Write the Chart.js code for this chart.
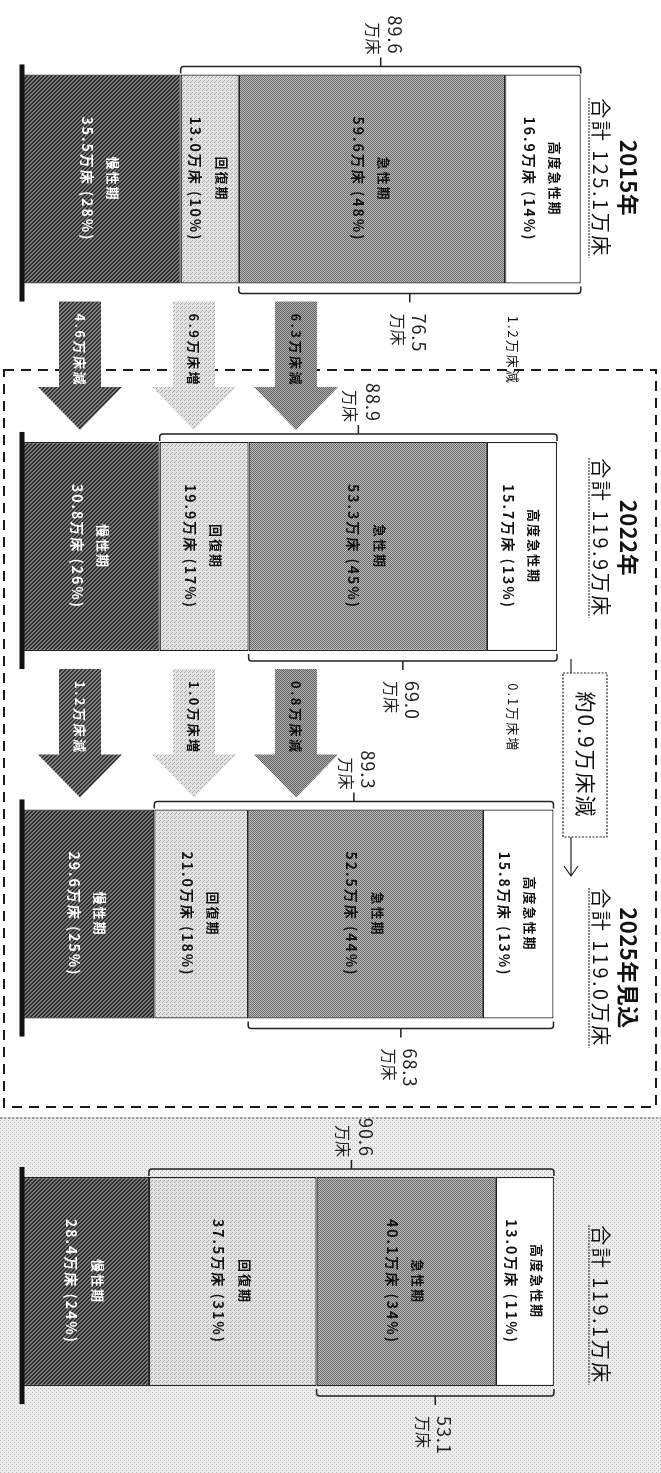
<!DOCTYPE html>
<html lang="ja">
<head>
<meta charset="UTF-8">
<title>病床数の推移</title>
<style>
  html, body { margin: 0; padding: 0; background: #fff; overflow: hidden; }
  #wrap { width: 661px; height: 1473px; }
</style>
</head>
<body>
<script src="https://cdn.jsdelivr.net/npm/chart.js"></script>
<div id="wrap"><canvas id="myChart" width="661" height="1473"></canvas></div>
<script>
  // 年次（上から）
  const categories = ['2015年', '2022年', '2025年見込', '2025年必要量'];
  const seriesNames = ['慢性期', '回復期', '急性期', '高度急性期'];
  // 病床数（万床）
  const chronic = [35.5, 30.8, 29.6, 28.4];
  const recovery = [13.0, 19.9, 21.0, 37.5];
  const acute = [59.6, 53.3, 52.5, 40.1];
  const highAcute = [16.9, 15.7, 15.8, 13.0];
  // 割合（%）
  const chronicPct = [28, 26, 25, 24];
  const recoveryPct = [10, 17, 18, 31];
  const acutePct = [48, 45, 44, 34];
  const highAcutePct = [14, 13, 13, 11];
  // 合計と括弧の数値（万床）
  const totals = [125.1, 119.9, 119.0, 119.1];
  const upperSums = [89.6, 88.9, 89.3, 90.6];
  const lowerSums = [76.5, 69.0, 68.3, 53.1];
  // 増減
  const change1 = ['4.6万床減', '6.9万床増', '6.3万床減', '1.2万床減'];
  const change2 = ['1.2万床減', '1.0万床増', '0.8万床減', '0.1万床増'];
  const overallChange = '約0.9万床減';

  const FONT = '"Noto Sans CJK JP", "Noto Sans", sans-serif';

  // 網掛けパターン
  function makePattern(bg, fg, cells) {
    const c = document.createElement('canvas');
    c.width = 4; c.height = 4;
    const g = c.getContext('2d');
    g.fillStyle = bg; g.fillRect(0, 0, 4, 4);
    g.fillStyle = fg;
    cells.forEach(p => g.fillRect(p[0], p[1], 1, 1));
    return g.createPattern(c, 'repeat');
  }
  const hatch = [[0,3],[1,2],[2,1],[3,0],[0,2],[1,1],[2,0],[3,3]];
  const checker = [[0,0],[2,0],[1,1],[3,1],[0,2],[2,2],[1,3],[3,3]];
  const sparse = [[0,0],[2,2]];
  const patChronic = makePattern('#7a7a7a', '#2a2a2a', hatch);
  const patRecovery = makePattern('#e2e2e2', '#a8a8a8', [[0,0],[2,2],[3,1]]);
  const patAcute = makePattern('#bcbcbc', '#6a6a6a', checker);
  const patBg = makePattern('#ececec', '#bcbcbc', sparse);
  const patArrowDark = makePattern('#828282', '#333333', hatch);
  const patArrowLight = makePattern('#e2e2e2', '#a8a8a8', [[0,0],[2,2],[1,3]]);
  const patArrowMid = makePattern('#b0b0b0', '#626262', checker);

  function vText(ctx, str, x, y, font, color, align, ls) {
    ctx.save();
    ctx.translate(x, y);
    ctx.rotate(Math.PI / 2);
    ctx.font = font;
    ctx.fillStyle = color || '#111';
    ctx.textAlign = align || 'center';
    ctx.textBaseline = 'middle';
    ctx.letterSpacing = (ls || 0) + 'px';
    ctx.fillText(str, 0, 0);
    const w = ctx.measureText(str).width;
    ctx.restore();
    return w;
  }

  function bracket(ctx, x1, x2, y, dir) {
    const h = 7 * dir, r = 3;
    ctx.beginPath();
    ctx.moveTo(x1, y + h);
    ctx.arcTo(x1, y, x1 + r, y, r);
    ctx.lineTo(x2 - r, y);
    ctx.arcTo(x2, y, x2, y + h, r);
    ctx.lineTo(x2, y + h);
    const m = (x1 + x2) / 2;
    ctx.moveTo(m, y);
    ctx.lineTo(m, y - 9 * dir);
    ctx.stroke();
  }

  function arrow(ctx, cx, y0, yHead, yTip, fill) {
    ctx.beginPath();
    ctx.moveTo(cx - 21, y0);
    ctx.lineTo(cx + 21, y0);
    ctx.lineTo(cx + 21, yHead);
    ctx.lineTo(cx + 42, yHead);
    ctx.lineTo(cx, yTip);
    ctx.lineTo(cx - 42, yHead);
    ctx.lineTo(cx - 21, yHead);
    ctx.closePath();
    ctx.fillStyle = fill;
    ctx.fill();
  }

  const decor = {
    id: 'decor',
    beforeDraw(chart) {
      const ctx = chart.ctx;
      ctx.save();
      ctx.fillStyle = '#fff';
      ctx.fillRect(0, 0, chart.width, chart.height);
      ctx.fillStyle = patBg;
      ctx.fillRect(0, 1117, chart.width, chart.height - 1117);
      ctx.strokeStyle = '#8a8a8a';
      ctx.lineWidth = 1.5;
      ctx.setLineDash([2, 2]);
      ctx.beginPath(); ctx.moveTo(0, 1118); ctx.lineTo(chart.width, 1118); ctx.stroke();
      // 破線の枠
      ctx.strokeStyle = '#1a1a1a';
      ctx.lineWidth = 2;
      ctx.setLineDash([10, 7]);
      ctx.strokeRect(4, 370, 652, 737);
      ctx.restore();
    },
    afterDatasetsDraw(chart) {
      const ctx = chart.ctx;
      const xs = chart.scales.x;
      const bars = chart.getDatasetMeta(0).data;
      const pcts = [chronicPct, recoveryPct, acutePct, highAcutePct];
      const titleY = [178, 538, 968, 1305];
      ctx.save();

      bars.forEach((el, i) => {
        const top = el.y - el.height / 2, bot = el.y + el.height / 2;
        // 基線
        ctx.fillStyle = '#111';
        ctx.fillRect(19.5, top - 10, 5, el.height + 28);

        // 区分ラベル
        chart.data.datasets.forEach((ds, d) => {
          const seg = chart.getDatasetMeta(d).data[i];
          const cx = (seg.x + seg.base) / 2;
          const col = d === 0 ? '#fff' : '#111';
          vText(ctx, seriesNames[d], cx + 12, el.y, 'bold 13px ' + FONT, col, 'center', 2);
          vText(ctx, ds.data[i].toFixed(1) + '万床 (' + pcts[d][i] + '%)', cx - 14, el.y,
            'bold 14px ' + FONT, col, 'center', 2);
        });

        // 括弧
        const xa = xs.getPixelForValue(chronic[i]);
        const xb = xs.getPixelForValue(chronic[i] + recovery[i]);
        const xe = xs.getPixelForValue(chronic[i] + recovery[i] + acute[i] + highAcute[i]);
        ctx.strokeStyle = '#222';
        ctx.lineWidth = 1.5;
        const yu = top - 8, yl = bot + 10;
        bracket(ctx, xa, xe, yu, 1);
        bracket(ctx, xb, xe, yl, -1);
        const mu = (xa + xe) / 2, ml = (xb + xe) / 2;
        vText(ctx, upperSums[i].toFixed(1), mu + 14, yu - 12, '18px ' + FONT, '#222', 'right', 1);
        vText(ctx, '万床', mu - 8, yu - 12, '16px ' + FONT, '#222', 'right', 0);
        vText(ctx, lowerSums[i].toFixed(1), ml + 9, yl + 20, '18px ' + FONT, '#222', 'left', 1);
        vText(ctx, '万床', ml - 12, yl + 20, '16px ' + FONT, '#222', 'left', 0);

        // 見出し
        if (i < 3) vText(ctx, categories[i], 628, titleY[i], 'bold 22px ' + FONT, '#111', 'center', 0.5);
        const w = vText(ctx, '合計 ' + totals[i].toFixed(1) + '万床', 601, titleY[i],
          '20px ' + FONT, '#111', 'center', 2.5);
        ctx.strokeStyle = '#333';
        ctx.lineWidth = 1.5;
        ctx.setLineDash([1.5, 1.5]);
        ctx.beginPath();
        ctx.moveTo(589, titleY[i] - w / 2);
        ctx.lineTo(589, titleY[i] + w / 2);
        ctx.stroke();
        ctx.setLineDash([]);
      });

      // 増減の矢印
      const arrowX = [80, 194, 296];
      const fills = [patArrowDark, patArrowLight, patArrowMid];
      [change1, change2].forEach((labels, k) => {
        const a = bars[k], b = bars[k + 1];
        const y0 = a.y + a.height / 2 + 18;
        const yTip = b.y - b.height / 2 - 12;
        const yHead = yTip - 43;
        const ty = (y0 + yHead) / 2 + 6;
        for (let s = 0; s < 3; s++) {
          arrow(ctx, arrowX[s], y0, yHead, yTip, fills[s]);
          vText(ctx, labels[s], arrowX[s], ty, 'bold 13px ' + FONT, s === 0 ? '#fff' : '#111', 'center', 2.5);
        }
        vText(ctx, labels[3], 513, ty, '13px ' + FONT, '#111', 'center', 2);
      });

      // 全体の増減
      ctx.strokeStyle = '#222';
      ctx.lineWidth = 1.2;
      ctx.beginPath();
      ctx.moveTo(571, 659); ctx.lineTo(571, 673);
      ctx.moveTo(571, 837); ctx.lineTo(571, 876);
      ctx.moveTo(564, 866); ctx.lineTo(571, 876); ctx.lineTo(578, 866);
      ctx.stroke();
      ctx.fillStyle = '#fff';
      ctx.fillRect(563, 673, 44, 164);
      ctx.setLineDash([2, 1.5]);
      ctx.strokeRect(563, 673, 44, 164);
      ctx.setLineDash([]);
      vText(ctx, overallChange, 586, 755, '21px ' + FONT, '#111', 'center', 2);

      ctx.restore();
    }
  };

  const ctx = document.getElementById('myChart').getContext('2d');
  const seriesData = [chronic, recovery, acute, highAcute];
  const fills = [patChronic, patRecovery, patAcute, '#ffffff'];

  const data = {
    labels: categories,
    datasets: seriesData.map((vals, d) => ({
      label: seriesNames[d],
      data: vals,
      backgroundColor: fills[d],
      borderColor: '#222',
      borderWidth: 1.2,
      borderSkipped: false,
      barPercentage: 0.569,
      categoryPercentage: 1,
      clip: false
    }))
  };

  let myChart = new Chart(ctx, {
    type: 'bar',
    data: data,
    options: {
      indexAxis: 'y',
      responsive: false,
      animation: false,
      layout: { padding: { left: 22, right: 13.2, top: 179, bottom: 191.5 } },
      plugins: { legend: { display: false }, tooltip: { enabled: false } },
      scales: {
        x: { stacked: true, min: 0, max: 140, display: false },
        y: { stacked: true, offset: false, display: false }
      }
    },
    plugins: [decor]
  });
</script>
</body>
</html>
